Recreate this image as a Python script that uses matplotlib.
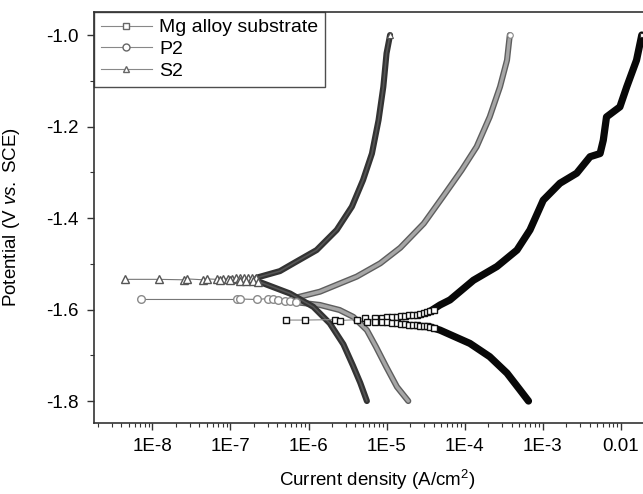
import numpy as np
import matplotlib
matplotlib.use("Agg")
import matplotlib.pyplot as plt
from matplotlib.ticker import FixedLocator, LogLocator, MultipleLocator, NullFormatter

plt.rcParams['font.family'] = ['Liberation Sans', 'DejaVu Sans']
plt.rcParams['mathtext.fontset'] = 'custom'
plt.rcParams['mathtext.rm'] = 'Liberation Sans'
plt.rcParams['mathtext.it'] = 'Liberation Sans:italic'

# ---- Mg alloy substrate (squares) ----
mg_pts_i = [5.2e-7, 9.0e-7, 2.2e-6, 2.5e-6, 4.2e-6, 5.3e-6, 5.6e-6]
mg_pts_E = [-1.623, -1.623, -1.622, -1.624, -1.622, -1.619, -1.627]
# separate squares of the two rows just off Ecorr
mg_up_i = [7.1e-6, 8.7e-6, 1.0e-5, 1.17e-5, 1.35e-5, 1.53e-5, 1.74e-5, 1.96e-5, 2.2e-5,
           2.46e-5, 2.7e-5, 3.0e-5, 3.3e-5, 3.6e-5, 4.0e-5]
mg_up_E = [-1.618, -1.618, -1.617, -1.617, -1.616, -1.615, -1.614, -1.613, -1.612,
           -1.611, -1.609, -1.607, -1.606, -1.604, -1.601]
mg_lo_i = [7.1e-6, 8.7e-6, 1.0e-5, 1.17e-5, 1.35e-5, 1.53e-5, 1.74e-5, 1.96e-5, 2.2e-5,
           2.46e-5, 2.7e-5, 3.0e-5, 3.3e-5, 3.6e-5, 4.0e-5]
mg_lo_E = [-1.627, -1.628, -1.628, -1.629, -1.630, -1.631, -1.632, -1.633, -1.633,
           -1.634, -1.635, -1.636, -1.637, -1.638, -1.640]
mg_an_i = [3.6e-5, 4.85e-5, 6.5e-5, 1.3e-4, 2.6e-4, 4.7e-4, 6.9e-4, 1.02e-3, 1.67e-3,
           2.74e-3, 4.06e-3, 5.46e-3, 6.0e-3, 6.6e-3, 9.8e-3, 1.2e-2, 1.6e-2, 1.87e-2]
mg_an_E = [-1.604, -1.590, -1.579, -1.536, -1.506, -1.470, -1.426, -1.361, -1.324,
           -1.302, -1.266, -1.259, -1.230, -1.179, -1.157, -1.113, -1.055, -1.000]
mg_ca_i = [3.6e-5, 4.85e-5, 1.17e-4, 2.1e-4, 3.5e-4, 5.15e-4, 6.6e-4]
mg_ca_E = [-1.638, -1.645, -1.674, -1.703, -1.739, -1.776, -1.800]

# ---- P2 (circles) ----
p2_pts_i = [7.1e-9, 1.2e-7, 1.32e-7, 2.2e-7, 3.0e-7, 3.5e-7, 4.1e-7, 5.0e-7, 5.8e-7, 6.9e-7]
p2_pts_E = [-1.578, -1.578, -1.577, -1.578, -1.576, -1.578, -1.579, -1.581, -1.582, -1.583]
p2_an_i = [6.9e-7, 1.4e-6, 4.15e-6, 8.3e-6, 1.5e-5, 3.0e-5, 5.3e-5, 9.2e-5, 1.43e-4,
           2.1e-4, 2.85e-4, 3.5e-4, 3.8e-4]
p2_an_E = [-1.574, -1.561, -1.528, -1.499, -1.465, -1.412, -1.353, -1.295, -1.244,
           -1.179, -1.113, -1.055, -1.000]
p2_ca_i = [6.9e-7, 1.4e-6, 2.5e-6, 3.75e-6, 5.6e-6, 7.3e-6, 9.9e-6, 1.36e-5, 1.9e-5]
p2_ca_E = [-1.584, -1.590, -1.601, -1.616, -1.645, -1.681, -1.725, -1.769, -1.800]

# ---- S2 (triangles) ----
s2_pts_i = [4.4e-9, 1.2e-8, 2.5e-8, 2.75e-8, 4.5e-8, 5.0e-8, 6.65e-8, 8.0e-8, 9.3e-8,
            1.05e-7, 1.18e-7, 1.32e-7, 1.49e-7, 1.67e-7, 1.89e-7, 2.12e-7]
s2_pts_E = [-1.534, -1.534, -1.535, -1.533, -1.535, -1.533, -1.534, -1.533, -1.533,
            -1.533, -1.532, -1.532, -1.532, -1.531, -1.531, -1.530]
s2_lo_i = [7.3e-8, 9.8e-8, 1.32e-7, 1.6e-7, 1.95e-7, 2.25e-7]
s2_lo_E = [-1.535, -1.536, -1.537, -1.537, -1.538, -1.539]
s2_an_i = [2.2e-7, 4.3e-7, 6.4e-7, 1.27e-6, 2.3e-6, 3.6e-6, 5.0e-6, 6.5e-6, 7.9e-6,
           9.1e-6, 1.0e-5, 1.11e-5]
s2_an_E = [-1.530, -1.516, -1.499, -1.470, -1.426, -1.375, -1.317, -1.259, -1.186,
           -1.113, -1.040, -1.000]
s2_ca_i = [2.3e-7, 5.8e-7, 1.15e-6, 1.87e-6, 2.8e-6, 3.7e-6, 4.6e-6, 5.6e-6]
s2_ca_E = [-1.539, -1.565, -1.594, -1.630, -1.676, -1.722, -1.760, -1.800]

labels = ['Mg alloy substrate', 'P2', 'S2']
xtick_vals = [1e-8, 1e-7, 1e-6, 1e-5, 1e-4, 1e-3, 1e-2]
xtick_labels = ['1E-8', '1E-7', '1E-6', '1E-5', '1E-4', '1E-3', '0.01']
ytick_vals = [-1.8, -1.6, -1.4, -1.2, -1.0]

fig = plt.figure(figsize=(6.43, 4.94), dpi=100)
ax = fig.add_axes([94 / 643, 71 / 494, 566 / 643, 411.3 / 494])

band = dict(solid_capstyle='round', solid_joinstyle='round')
# P2 dense branches
for xi, yi in [(p2_an_i, p2_an_E), (p2_ca_i, p2_ca_E)]:
    ax.plot(xi, yi, color='#5e5e5e', lw=4.4, zorder=2, **band)
    ax.plot(xi, yi, color='#a6a6a6', lw=2.4, zorder=2, **band)
# S2 dense branches
for xi, yi in [(s2_an_i, s2_an_E), (s2_ca_i, s2_ca_E)]:
    ax.plot(xi, yi, color='#333333', lw=4.4, zorder=3, **band)
    ax.plot(xi, yi, color='#555555', lw=1.2, zorder=3, **band)
# Mg dense branches
for xi, yi in [(mg_an_i, mg_an_E), (mg_ca_i, mg_ca_E)]:
    ax.plot(xi, yi, color='#080808', lw=5.2, zorder=4, **band)

# individual markers near the corrosion potential
ax.plot(mg_pts_i + mg_up_i, mg_pts_E + mg_up_E, color='#8a8a8a', lw=0.8, marker='s', ms=4.8,
        mfc='white', mec='#111111', mew=1.0, zorder=5, label=labels[0])
ax.plot(mg_lo_i, mg_lo_E, ls='none', marker='s', ms=4.8,
        mfc='white', mec='#111111', mew=1.0, zorder=5)
ax.plot(p2_pts_i, p2_pts_E, color='#777777', lw=0.8, marker='o', ms=5.5,
        mfc='white', mec='#8a8a8a', mew=1.0, zorder=5, label=labels[1])
ax.plot(s2_pts_i, s2_pts_E, color='#777777', lw=0.8, marker='^', ms=6,
        mfc='white', mec='#555555', mew=1.0, zorder=5, label=labels[2])
ax.plot(s2_lo_i, s2_lo_E, ls='none', marker='^', ms=6,
        mfc='white', mec='#555555', mew=1.0, zorder=5)

# open end markers at the top
ax.plot(mg_an_i[-1:], mg_an_E[-1:], ls='none', marker='s', ms=3.5, mfc='white', mec='#333333', mew=0.8, zorder=6)
ax.plot(p2_an_i[-1:], p2_an_E[-1:], ls='none', marker='o', ms=4, mfc='white', mec='#888888', mew=0.8, zorder=6)
ax.plot(s2_an_i[-1:], s2_an_E[-1:], ls='none', marker='^', ms=4.5, mfc='white', mec='#555555', mew=0.8, zorder=6)

ax.set_xscale('log')
ax.set_xlim(1.78e-9, 0.032)
ax.set_ylim(-1.848, -0.949)

ax.xaxis.set_major_locator(FixedLocator(xtick_vals))
ax.set_xticklabels(xtick_labels)
ax.xaxis.set_minor_locator(LogLocator(base=10, subs=np.arange(2, 10)))
ax.xaxis.set_minor_formatter(NullFormatter())
ax.yaxis.set_major_locator(FixedLocator(ytick_vals))
ax.set_yticklabels(['%.1f' % v for v in ytick_vals])
ax.yaxis.set_minor_locator(MultipleLocator(0.1))

ax.tick_params(which='major', direction='out', length=5, width=1.0, labelsize=13.5, color='#333333', pad=6)
ax.tick_params(which='minor', direction='out', length=3, width=0.8, color='#333333')
ax.tick_params(axis='x', which='major', pad=6)
for sp in ax.spines.values():
    sp.set_linewidth(1.2)
    sp.set_color('#333333')

ax.set_xlabel('Current density (A/cm$^2$)', fontsize=13.5, labelpad=9)
ax.set_ylabel('Potential (V $\\mathit{vs.}$ SCE)', fontsize=13.5)
ax.yaxis.set_label_coords(-0.128, 0.5)

leg = ax.legend(loc='upper left', bbox_to_anchor=(0.0, 1.0), borderaxespad=0, fontsize=14,
                frameon=True, fancybox=False, handlelength=2.6, handletextpad=0.4,
                labelspacing=0.22, borderpad=0.36)
leg.get_frame().set_edgecolor('#222222')
leg.get_frame().set_linewidth(1.0)
for h in leg.get_lines():
    h.set_color('#888888')
    h.set_markeredgecolor('#666666')
    h.set_markersize(5)

fig.savefig('out.png', dpi=100)
